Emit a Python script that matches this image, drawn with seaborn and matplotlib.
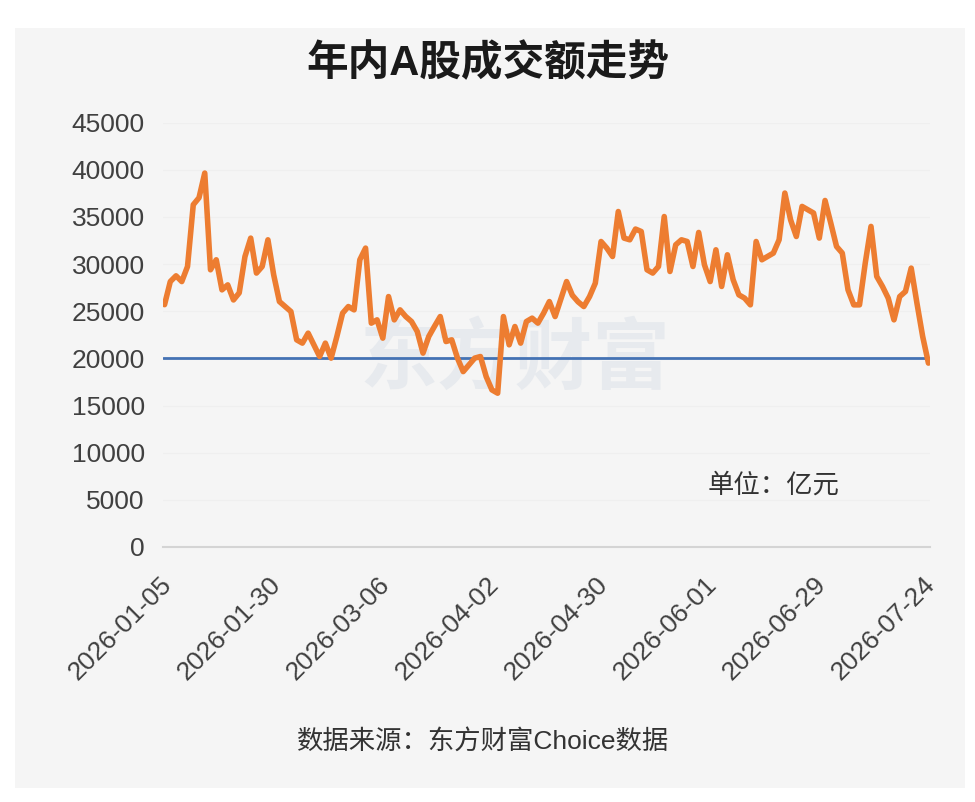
import numpy as np
import pandas as pd
import seaborn as sns
import matplotlib.pyplot as plt
from matplotlib.patches import Rectangle
from matplotlib.transforms import ScaledTranslation

sns.set_theme(style="white")
plt.rcParams['font.family'] = ['Liberation Sans', 'Noto Sans CJK SC', 'DejaVu Sans']

# daily turnover (亿元)
turnover = [
    25700, 28150, 28760, 28150, 29750, 36300, 37040, 39660, 29400, 30460,
    27270, 27800, 26200, 26950, 30800, 32760, 29050, 29750, 32580, 28870,
    26030, 25500, 24970, 21970, 21620, 22680, 21440, 20200, 21620, 20030,
    22320, 24800, 25500, 25150, 30460, 31700, 23740, 24090, 22150, 26560,
    24090, 25150, 24440, 23910, 22850, 20560, 22320, 23400, 24440, 21790,
    21970, 20030, 18600, 19320, 20030, 20200, 18070, 16660, 16310, 24440,
    21440, 23380, 21620, 23910, 24270, 23740, 24800, 26030, 24440, 26300,
    28150, 26700, 26000, 25500, 26560, 27980, 32400, 31700, 30810, 35580,
    32760, 32580, 33720, 33460, 29400, 29050, 29750, 35050, 29220, 32050,
    32580, 32400, 29750, 33360, 29930, 28150, 31520, 27630, 30990, 28340,
    26740, 26390, 25680, 32400, 30460, 30810, 31170, 32580, 37540, 34700,
    32930, 36120, 35770, 35420, 32760, 36750, 34350, 31870, 31170, 27270,
    25680, 25680, 30110, 34000, 28690, 27630, 26390, 24090, 26560, 27100,
    29580, 25860, 22320, 19500,
]
tick_labels = ['2026-01-05', '2026-01-30', '2026-03-06', '2026-04-02',
               '2026-04-30', '2026-06-01', '2026-06-29', '2026-07-24']
yticks = [0, 5000, 10000, 15000, 20000, 25000, 30000, 35000, 40000, 45000]
ref_level = 20000

df = pd.DataFrame({'day': np.arange(len(turnover)), 'turnover': turnover})
tick_pos = [0, 19, 38, 57, 76, 95, 114, len(turnover) - 1]

fig = plt.figure(figsize=(9.75, 8.02), dpi=100)
fig.patch.set_facecolor('white')
# light grey card behind everything
fig.patches.append(Rectangle((0.015, 0.018), 0.975, 0.947,
                             transform=fig.transFigure, facecolor='#f5f5f5',
                             edgecolor='none', zorder=-5))

ax = fig.add_axes([0.167, 0.318, 0.787, 0.529])
ax.set_facecolor('none')

# faint watermark
ax.text(61, 19800, '东方财富', ha='center', va='center',
        fontsize=56, fontweight='bold', color='#e7eaee', zorder=0.5,
        family=['Noto Sans CJK SC'])

for y in yticks[1:]:
    ax.axhline(y, color='#efefef', lw=0.8, zorder=0.6)

sns.lineplot(data=df, x='day', y='turnover', color='#ed7d31', linewidth=4,
             ax=ax, zorder=3)
ax.axhline(ref_level, color='#4472b4', lw=2, zorder=2)

ax.set_xlim(-0.3, len(turnover) - 0.7)
ax.set_ylim(0, 45000)
ax.set_yticks(yticks)
ax.set_yticklabels([str(v) for v in yticks])
ax.set_xticks(tick_pos)
ax.set_xticklabels(tick_labels, rotation=45, ha='right', va='center',
                   rotation_mode='anchor')
ax.tick_params(axis='y', length=0, pad=13, labelsize=19, labelcolor='#404040')
ax.tick_params(axis='x', length=0, pad=24, labelsize=19, labelcolor='#404040')
for lab in ax.get_xticklabels():
    lab.set_transform(lab.get_transform() + ScaledTranslation(0.03, 0, fig.dpi_scale_trans))
ax.set_xlabel('')
ax.set_ylabel('')

for side in ['top', 'right', 'left']:
    ax.spines[side].set_visible(False)
ax.spines['bottom'].set_color('#d4d4d4')
ax.spines['bottom'].set_linewidth(1.5)

ax.text(0.71, 0.145, '单位：亿元', transform=ax.transAxes, fontsize=19,
        color='#333333', ha='left', va='center')

fig.text(0.5, 0.92, '年内A股成交额走势', ha='center', va='center', fontsize=30,
         fontweight='bold', color='#1a1a1a')
fig.text(0.495, 0.076, '数据来源：东方财富Choice数据', ha='center', va='center',
         fontsize=19, color='#333333')

out_file = 'out.png'
fig.savefig(out_file, dpi=100)
print(f'Plot saved to {out_file}')
